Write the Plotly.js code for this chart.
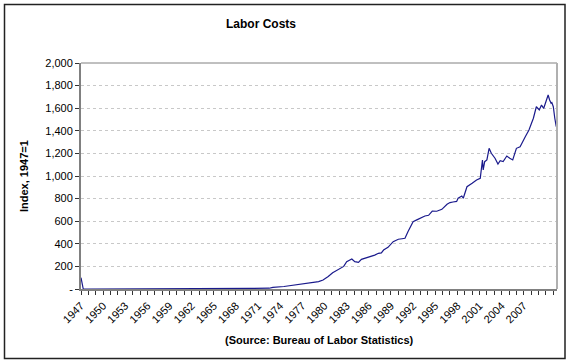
<!DOCTYPE html>
<html><head><meta charset="utf-8">
<script src="https://cdn.plot.ly/plotly-3.0.1.min.js"></script>
<style>html,body{margin:0;padding:0;background:#fff}#chart{width:570px;height:364px}</style>
</head><body><div id="chart"></div>
<script>
const years = [1947.0,1947.3,1948,1950,1955,1960,1961.0,1961.3,1961.6,1965.2,1965.4,1965.7,1966.7,1970,1972.5,1973.0,1974.5,1975.7,1977.0,1978.4,1979.2,1979.8,1980.5,1981.1,1981.8,1982.2,1982.6,1983.0,1983.4,1983.7,1984.1,1984.6,1985.0,1985.5,1986.2,1986.8,1987.3,1987.7,1988.0,1988.6,1989.3,1990.0,1990.5,1990.9,1991.3,1992.0,1992.5,1992.9,1993.6,1994.1,1994.6,1995.2,1995.9,1996.6,1997.0,1997.4,1997.9,1998.1,1998.6,1998.8,1999.3,2000.0,2000.6,2001.1,2001.3,2001.4,2001.5,2001.7,2002.0,2002.3,2002.6,2003.1,2003.5,2003.8,2004.2,2004.7,2005.1,2005.5,2006.0,2006.5,2007.2,2007.7,2008.3,2008.7,2009.1,2009.4,2009.7,2010.1,2010.3,2010.5,2010.7,2010.8,2011.0,2011.2,2011.4];
const values = [100,2,0,0,0,0,0,3,0,0,3,1,4,5,7,15,22,33,42,56,66,80,110,144,170,185,200,242,258,265,242,236,262,272,292,300,316,320,345,369,419,440,445,449,507,596,612,626,646,652,690,688,705,750,765,770,775,803,823,803,905,935,965,980,1082,1142,1053,1127,1142,1245,1201,1157,1106,1135,1127,1177,1157,1142,1245,1259,1348,1407,1511,1613,1584,1628,1599,1688,1717,1673,1643,1649,1613,1511,1437];
const xTickVals = [1947,1950,1953,1956,1959,1962,1965,1968,1971,1974,1977,1980,1983,1986,1989,1992,1995,1998,2001,2004,2007];
const xTickText = xTickVals.map(String);
const yTickVals = [0,200,400,600,800,1000,1200,1400,1600,1800,2000];
const yTickText = ['-','200','400','600','800','1,000','1,200','1,400','1,600','1,800','2,000'];

const L=81, R=557, T=63, B=289, PW=R-L, PH=B-T;
const px=(x)=>(x-L)/PW, py=(y)=>(B-y)/PH;
const font='"Liberation Sans", Arial, sans-serif';

Plotly.newPlot('chart',[{
  x: years, y: values, type:'scatter', mode:'lines',
  line:{color:'#1a1a8c', width:1.2}, hoverinfo:'skip'
}],{
  width:570, height:364,
  margin:{l:L, r:570-R, t:T, b:364-B},
  paper_bgcolor:'#fff', plot_bgcolor:'#fff',
  showlegend:false,
  font:{family:font, size:10, color:'#000'},
  xaxis:{range:[1947,2011.5], tickmode:'array', tickvals:xTickVals, ticktext:xTickText,
    tickangle:-45, ticks:'outside', ticklen:4, tickcolor:'#333', showgrid:false, zeroline:false,
    showline:true, linecolor:'#808080', linewidth:2, layer:'above traces',
    minor:{tickmode:'linear', tick0:1947, dtick:1, ticks:'outside', ticklen:4, tickcolor:'#333', showgrid:false},
    tickfont:{family:font, size:11, color:'#000'}},
  yaxis:{range:[0,2000], tickmode:'array', tickvals:yTickVals, ticktext:yTickText,
    ticks:'outside', ticklen:4, tickcolor:'#333', showline:true, linecolor:'#808080', linewidth:2,
    showgrid:true, gridcolor:'#c8c8c8', griddash:'3px,3px', gridwidth:1, zeroline:false,
    tickfont:{family:font, size:11, color:'#000'}},
  shapes:[
    {type:'line', xref:'paper', yref:'paper', x0:0, x1:1, y0:1, y1:1, line:{color:'#808080', width:1}},
    {type:'line', xref:'paper', yref:'paper', x0:1, x1:1, y0:0, y1:1, line:{color:'#b0b0b0', width:2}},
    {type:'rect', xref:'paper', yref:'paper', x0:px(4.5), x1:px(565), y0:py(358.5), y1:py(4.5), line:{color:'#222', width:1.5}}
  ],
  annotations:[
    {text:'<b>Labor Costs</b>', xref:'paper', yref:'paper', x:px(261), y:py(24), showarrow:false, xanchor:'center', yanchor:'middle', font:{family:font, size:12, color:'#000'}},
    {text:'<b>Index, 1947=1</b>', xref:'paper', yref:'paper', x:px(24), y:py(176), textangle:-90, showarrow:false, xanchor:'center', yanchor:'middle', font:{family:font, size:11, color:'#000'}},
    {text:'<b>(Source: Bureau of Labor Statistics)</b>', xref:'paper', yref:'paper', x:px(319), y:py(340), showarrow:false, xanchor:'center', yanchor:'middle', font:{family:font, size:11, color:'#000'}}
  ]
},{staticPlot:true, displayModeBar:false});
</script></body></html>
